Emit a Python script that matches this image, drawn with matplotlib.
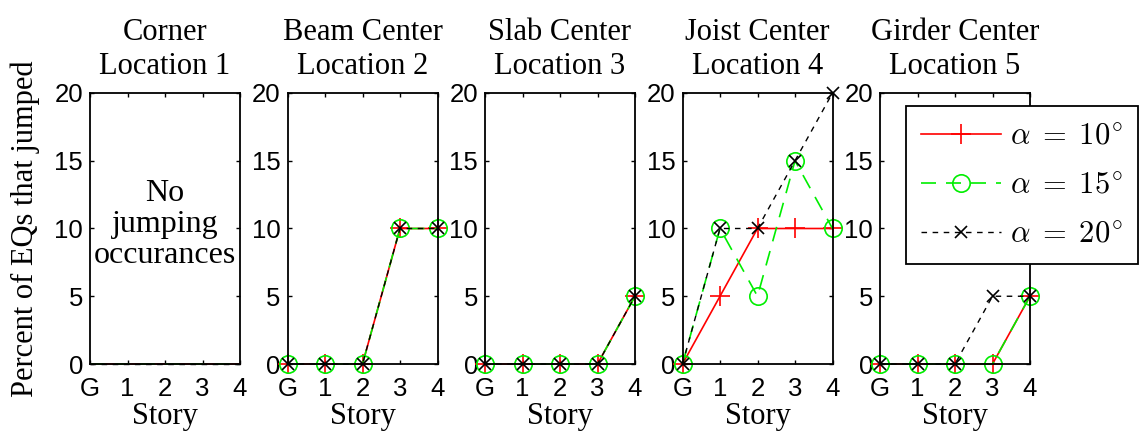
import numpy as np
import matplotlib
matplotlib.use("Agg")
import matplotlib.pyplot as plt

plt.rcParams['mathtext.fontset'] = 'cm'

# Data
stories = ['G', '1', '2', '3', '4']
titles = ['Corner\nLocation 1', 'Beam Center\nLocation 2', 'Slab Center\nLocation 3',
          'Joist Center\nLocation 4', 'Girder Center\nLocation 5']
angle_labels = [r'$\alpha\;=\;10^{\!\circ}$', r'$\alpha\;=\;15^{\!\circ}$', r'$\alpha\;=\;20^{\!\circ}$']

a10 = [[0, 0, 0, 0, 0], [0, 0, 0, 10, 10], [0, 0, 0, 0, 5], [0, 5, 10, 10, 10], [0, 0, 0, 0, 5]]
a15 = [[0, 0, 0, 0, 0], [0, 0, 0, 10, 10], [0, 0, 0, 0, 5], [0, 10, 5, 15, 10], [0, 0, 0, 0, 5]]
a20 = [[0, 0, 0, 0, 0], [0, 0, 0, 10, 10], [0, 0, 0, 0, 5], [0, 10, 10, 15, 20], [0, 0, 0, 5, 5]]

serif = 'Liberation Serif'
sans = 'Liberation Sans'

fig = plt.figure(figsize=(11.41, 4.36), dpi=100)
W, H = 1141, 436
x = np.arange(len(stories))

styles = [dict(color='red', ls='-', marker='+', ms=14, mew=1.2, lw=1.2),
          dict(color='#00ee00', ls=(0, (9, 6)), marker='o', ms=12.5, mfc='none', mew=1.2, lw=1.2),
          dict(color='black', ls=(0, (4, 4)), marker='x', ms=8.5, mew=1.2, lw=1.0)]
series = [a10, a15, a20]

handles = []
for i in range(5):
    left = 90 + i * 197.5
    ax = fig.add_axes([left / W, (H - 364) / H, 150 / W, 271 / H])
    for s, st in zip(series, styles):
        kw = dict(st)
        if i == 0:
            kw['marker'] = None
        h, = ax.plot(x, s[i], clip_on=False, **kw)
        if i == 4:
            handles.append(h)
    ax.set_xlim(0, 4)
    ax.set_ylim(0, 20)
    ax.set_xticks(x)
    ax.set_xticklabels(stories)
    ax.set_yticks([0, 5, 10, 15, 20])
    ax.tick_params(direction='in', top=True, right=True, length=3, width=1,
                   labelsize=18.5)
    ax.tick_params(axis='x', pad=9)
    ax.tick_params(axis='y', pad=5)
    for lab in ax.get_xticklabels() + ax.get_yticklabels():
        lab.set_fontfamily(sans)
    for sp in ax.spines.values():
        sp.set_linewidth(1.3)
    ax.set_title(titles[i], fontsize=22, family=serif, pad=14, linespacing=1.2)
    ax.set_xlabel('Story', fontsize=22, family=serif, labelpad=1)
    if i == 0:
        ax.set_ylabel('Percent of EQs that jumped', fontsize=22, family=serif, labelpad=10)
        ax.text(2, 10.3, 'No\njumping\noccurances', ha='center', va='center',
                fontsize=23, family=serif, linespacing=1.1)

leg = fig.legend(handles, angle_labels, loc='upper left',
                 bbox_to_anchor=(906 / W, (H - 106) / H), borderaxespad=0,
                 fontsize=22, handlelength=2.6, labelspacing=0.66, borderpad=0.5,
                 handletextpad=0.3, fancybox=False, framealpha=1, edgecolor='black')
leg.get_frame().set_linewidth(1.3)

fig.savefig('out.png', dpi=100)
